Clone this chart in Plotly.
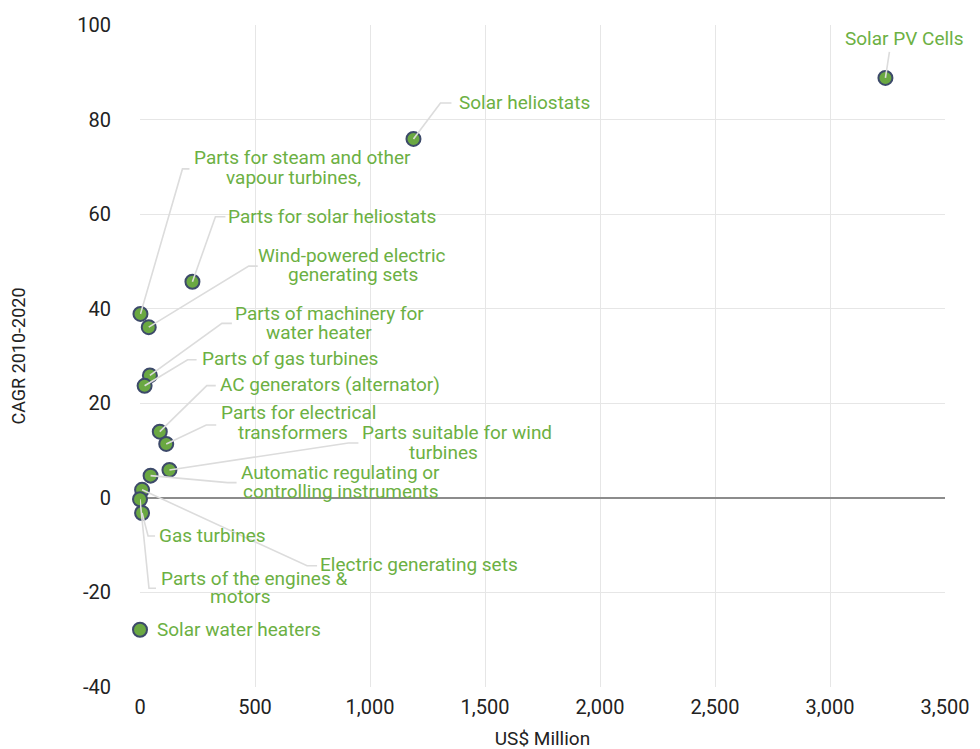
import plotly.graph_objects as go

# ---- data ----
products = [
    "Solar PV Cells",
    "Solar heliostats",
    "Parts for steam and other\nvapour turbines,",
    "Parts for solar heliostats",
    "Wind-powered electric\ngenerating sets",
    "Parts of machinery for\nwater heater",
    "Parts of gas turbines",
    "AC generators (alternator)",
    "Parts for electrical\ntransformers",
    "Parts suitable for wind\nturbines",
    "Automatic regulating or\ncontrolling instruments",
    "Electric generating sets",
    "Gas turbines",
    "Parts of the engines &\nmotors",
    "Solar water heaters",
]
usd_million = [3241, 1189, 2, 228, 38, 43, 20, 86, 114, 128, 46, 9, 9, 0, 0]
cagr = [88.8, 75.9, 38.9, 45.7, 36.1, 25.9, 23.7, 14.0, 11.4, 5.9, 4.7, 1.7, -3.2, -0.3, -27.9]

x_ticks = [0, 500, 1000, 1500, 2000, 2500, 3000, 3500]
x_tick_text = ["0", "500", "1,000", "1,500", "2,000", "2,500", "3,000", "3,500"]
y_ticks = [-40, -20, 0, 20, 40, 60, 80, 100]
y_tick_text = ["-40", "-20", "0", "20", "40", "60", "80", "100"]

# ---- label layout: pixel offsets from each point (screen coords, +y = down) ----
# text line centres, one (dx, dy) per text line
text_offsets = [
    [(19, -39)],
    [(111, -36)],
    [(162, -156), (153, -136)],
    [(140, -65)],
    [(203, -72), (204, -53)],
    [(180, -62), (169, -43)],
    [(145, -27)],
    [(170, -47)],
    [(132, -31), (127, -11)],
    [(288, -37), (274, -17)],
    [(190, -3), (190, 16)],
    [(277, 75)],
    [(70, 23)],
    [(114, 79), (100, 97)],
    [(99, 0)],
]
# leader lines: elbow point, then end of short horizontal segment
leader_offsets = [
    ((4, -26), (4, -26)),
    ((27, -36), (38, -36)),
    ((42, -145), (49, -145)),
    ((23, -65), (33, -65)),
    ((100, -61), (109, -61)),
    ((72, -52), (82, -52)),
    ((43, -26), (52, -26)),
    ((47, -46), (56, -46)),
    ((40, -19), (50, -19)),
    ((179, -27), (189, -27)),
    ((77, 7), (86, 7)),
    ((165, 76), (175, 76)),
    ((6, 23), (13, 23)),
    ((9, 89), (16, 89)),
    None,
]

GREEN_TEXT = "#6cb043"
LEADER = "#dcdcdc"
FONT = "Roboto"

fig = go.Figure()
fig.add_trace(go.Scatter(
    x=usd_million, y=cagr, mode="markers",
    marker=dict(size=14, color="#6aa842", line=dict(color="#3d4a6a", width=2)),
    cliponaxis=False, hoverinfo="skip", showlegend=False,
))

for name, xv, yv, tpos, lead in zip(products, usd_million, cagr, text_offsets, leader_offsets):
    if lead is not None:
        (ex, ey), (hx, hy) = lead
        fig.add_shape(
            type="path", xref="x", yref="y",
            xsizemode="pixel", ysizemode="pixel", xanchor=xv, yanchor=yv,
            path=f"M 0 0 L {ex} {-ey} L {hx} {-hy}",
            line=dict(color=LEADER, width=1.6), layer="above",
        )
    for line_text, (dx, dy) in zip(name.split("\n"), tpos):
        fig.add_annotation(
            x=xv, y=yv, text=line_text, showarrow=False,
            xshift=dx, yshift=-dy, xanchor="center", yanchor="middle",
            font=dict(family=FONT, size=19, color=GREEN_TEXT),
        )

# the page body adds an 8px offset, so margins are compensated
fig.update_layout(
    width=980, height=749,
    margin=dict(l=132, r=43, t=17, b=70, autoexpand=False),
    paper_bgcolor="white", plot_bgcolor="white",
    font=dict(family=FONT, color="#222222"),
)
fig.update_xaxes(
    range=[0, 3500], tickvals=x_ticks, ticktext=x_tick_text, automargin=False,
    showgrid=True, gridcolor="#e6e6e6", gridwidth=1, zeroline=False,
    showline=False, tickfont=dict(size=20, color="#222222"),
    ticks="outside", ticklen=2, tickcolor="rgba(0,0,0,0)",
    title=dict(text="US$ Million", font=dict(size=19, color="#222222"), standoff=13),
)
fig.update_yaxes(
    range=[-40, 100], tickvals=y_ticks, ticktext=y_tick_text, automargin=False,
    showgrid=True, gridcolor="#e6e6e6", gridwidth=1,
    zeroline=True, zerolinecolor="#8c8c8c", zerolinewidth=1.5,
    showline=False, tickfont=dict(size=20, color="#222222"),
    ticks="outside", ticklen=24, tickcolor="rgba(0,0,0,0)",
    title=dict(text="CAGR 2010-2020", font=dict(size=18, color="#222222"), standoff=48),
)

fig.write_html("out.html")
